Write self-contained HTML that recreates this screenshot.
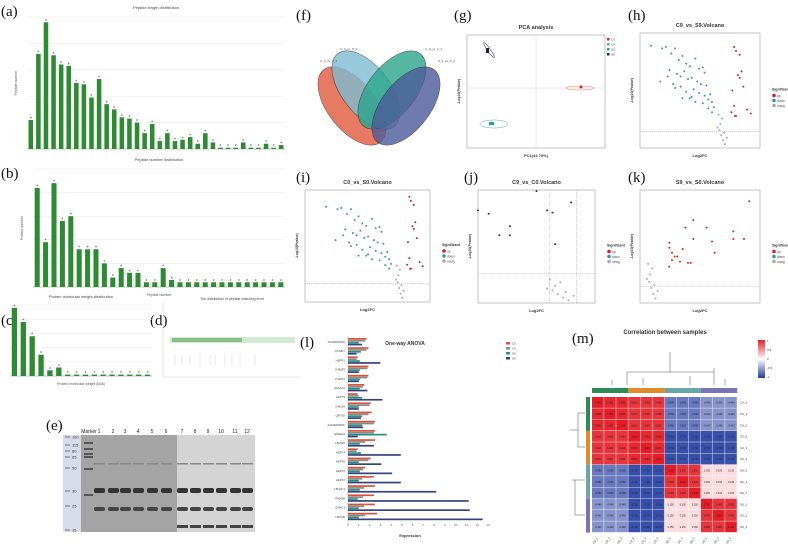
<!DOCTYPE html>
<html><head><meta charset="utf-8"><style>
html,body{margin:0;padding:0;background:#fff;}
svg{display:block;font-family:"Liberation Sans",sans-serif;}
.lab{font-family:"Liberation Serif",serif;font-size:15px;fill:#111;}
</style></head><body>
<svg id="fig" width="788" height="549" viewBox="0 0 788 549" xmlns="http://www.w3.org/2000/svg">
<g id="labels">
<text class="lab" x="1" y="16">(a)</text>
<text class="lab" x="1" y="178">(b)</text>
<text class="lab" x="1" y="325">(c)</text>
<text class="lab" x="150" y="325">(d)</text>
<text class="lab" x="46" y="430">(e)</text>
<text class="lab" x="296" y="20">(f)</text>
<text class="lab" x="454" y="20">(g)</text>
<text class="lab" x="628" y="20">(h)</text>
<text class="lab" x="296" y="182">(i)</text>
<text class="lab" x="464" y="182">(j)</text>
<text class="lab" x="628" y="182">(k)</text>
<text class="lab" x="300" y="347">(l)</text>
<text class="lab" x="572" y="343">(m)</text>
</g>
</svg>
<script>
const aVals=[22,72,96,71,64,63,50,49,39,53,34,30,24,23,20,12,19,6,12,6,7,9,4,12,5,1,1,1,5,1,1,4,1,3];
const bVals=[21,9.5,22,14,15,8,8,8,5,2,4,3,3,1,1,4,1.5,1,1,1,1,1,1,1,1,1,1,1,1,1];
const cVals=[48,38,28,15,4,6,1,1,1,1,1,1,1,1,1,1];
const lNames=["A0A060XDH9","J7FMD7","HEPR1","O48287","P14872","Q6AKA1","HEPT5","O46259","Q8I7E5","A0A060XRDF","Q6SEH4","L8LR45","HEPT4","HEPS6","HEPT6","HEPS7","L8LWC1","P80058","Q0BIC3","L8LS00"];
const lRed=[1.7,1.9,0.9,1.9,1.9,1.5,0.9,2.1,2.2,2.5,2.5,2.5,0.9,2.1,1.6,2.4,2.5,2.4,2.5,2.7];
const lGrey=[1.6,1.7,0.8,1.8,1.8,1.4,1.0,2.0,1.9,2.4,2.4,1.6,0.8,1.9,1.4,1.3,1.5,1.4,1.5,1.6];
const lTeal=[1.0,1.2,1.1,1.1,1.1,1.1,1.3,1.0,1.3,1.3,3.6,1.1,1.2,1.0,1.1,1.0,1.1,0.9,1.0,1.0];
const lNavy=[1.3,0.8,3.0,1.0,1.0,1.8,3.2,1.0,1.2,1.4,0.9,2.4,4.9,3.1,4.1,4.9,8.2,11.2,11.3,12.5];
const mSamples=["C9_1","C9_2","C9_3","C0_3","C0_1","C0_2","S9_3","S9_1","S9_2","S0_1","S0_2","S0_3"];
const mBlock=[[0.95,0.9,-0.55,-0.44],[0.9,0.95,-0.72,-0.72],[-0.55,-0.72,0.9,0.15],[-0.44,-0.72,0.15,0.9]];
const hUpX=[0.6,0.7,0.9,1.0,0.8,0.9,1.1,0.5,0.6,0.7,1.3,0.45,0.65,1.5];
const hUpY=[7.9,7.6,7.3,6.0,5.7,5.5,4.8,4.5,3.3,2.5,3.0,2.8,2.5,2.7];
const hDnX=[-3.9,-3.3,-3.1,-2.8,-2.6,-2.4,-2.2,-2.0,-1.8,-1.5,-1.3,-1.1,-1.0,-2.9,-2.5,-2.3,-2.1,-1.9,-1.7,-1.4,-1.2,-0.9,-0.7,-0.6,-2.7,-2.3,-2.0,-1.6,-1.3,-1.0,-0.8,-0.5,-2.2,-1.8,-1.5,-1.1,-0.8,-0.6,-3.0,-3.4,-2.6,-1.7];
const hDnY=[8.0,7.8,7.9,7.4,7.8,6.9,7.2,6.6,6.4,7.0,6.2,6.3,5.9,6.1,5.8,5.6,6.0,5.4,5.5,5.2,5.0,4.9,4.2,3.6,5.0,4.8,4.4,4.6,4.3,4.1,3.8,3.2,3.9,3.9,3.6,3.5,3.1,2.8,5.6,5.2,4.7,4.0];
const nsX=[-0.3,-0.2,-0.1,0.0,0.1,-0.15,0.05,-0.05,0.2,-0.25];
const nsY=[1.6,1.4,1.0,0.6,0.3,1.9,1.2,2.3,0.8,2.6];
const jX=[-1.6,-1.4,-1.0,-1.2,-1.0,-0.5,-0.3,-0.2,0.15,-0.15];
const jY=[4.1,3.95,3.4,3.0,3.0,4.95,4.1,4.0,4.45,2.6];
const kX=[3.6,1.5,1.2,2.0,1.5,2.2,3.0,3.4,3.0,0.6,0.6,0.7,0.8,0.9,1.0,0.7,0.6,1.3,1.4,1.1,2.3];
const kY=[8.1,6.6,6.0,6.0,5.1,4.9,5.1,5.1,5.7,4.8,4.4,4.0,3.7,3.7,3.3,3.4,2.9,3.2,3.2,4.3,4.0];

const NS="http://www.w3.org/2000/svg";
const svg=document.getElementById('fig');
function mk(tag,attrs,parent,txt){const e=document.createElementNS(NS,tag);for(const k in attrs)e.setAttribute(k,attrs[k]);if(txt!==undefined)e.textContent=txt;(parent||svg).appendChild(e);return e;}
function grp(name){const g=mk('g',{});return g;}
function lin(d0,d1,r0,r1){return v=>r0+(v-d0)/(d1-d0)*(r1-r0);}

function barChart(name,vals,x0,x1,y0,y1,max,title,ty,ylab,xlab){
 const g=grp(name);
 const y=lin(0,max,y1,y0);
 for(let i=0;i<=5;i++){const yy=y(max*i/5);mk('line',{x1:x0,x2:x1,y1:yy,y2:yy,stroke:'#e6e6e6','stroke-width':0.5},g);}
 mk('line',{x1:x0,x2:x1,y1:y1,y2:y1,stroke:'#999','stroke-width':0.5},g);
 const bw=(x1-x0)/vals.length;
 vals.forEach((v,i)=>{const r=mk('rect',{x:x0+i*bw+bw*0.2,y:y(v),width:bw*0.6,height:y1-y(v),fill:'#2f8a34'},g);
  
  
  mk('text',{x:x0+i*bw+bw/2,y:y(v)-1.5,'font-size':3,'text-anchor':'middle',fill:'#333'},g,'#');});
 if(title)mk('text',{x:(x0+x1)/2,y:ty,'font-size':4,'text-anchor':'middle',fill:'#444'},g,title);
 if(ylab)mk('text',{x:0,y:0,'font-size':3.5,'text-anchor':'middle',fill:'#555',transform:`translate(${x0-10},${(y0+y1)/2}) rotate(-90)`},g,ylab);
 if(xlab)mk('text',{x:(x0+x1)/2,y:y1+9,'font-size':3.5,'text-anchor':'middle',fill:'#555'},g,xlab);
 return g;
}
barChart('peptide-length-chart',aVals,27,285,17,149,100,'Peptide length distribution',9,'Peptide number','');
barChart('peptide-number-chart',bVals,33,285,169,287,25,'Peptide number distribution',161,'Protein number','Peptide number');
barChart('protein-weight-chart',cVals,10,152,305,376,50,'Protein molecular weight distribution',298,'Protein number','Protein molecular weight (kDa)');

{const g=grp('peptide-score-scatter');
 mk('text',{x:232,y:300,'font-size':3.5,'text-anchor':'middle',fill:'#444'},g,'The distribution of peptide matching error');
 mk('line',{x1:163,x2:163,y1:303,y2:377,stroke:'#ccc','stroke-width':0.5},g);
 mk('line',{x1:163,x2:300,y1:377,y2:377,stroke:'#ccc','stroke-width':0.5},g);
 mk('rect',{x:170,y:337,width:125,height:6,fill:'#7cc07c',opacity:0.35},g);
 mk('rect',{x:172,y:338,width:70,height:4,fill:'#3a9a3a',opacity:0.5},g);
 const dotsX=[190,200,210,215,240,255,175,182,225,232];
 dotsX.forEach(x=>mk('line',{x1:x,x2:x,y1:355,y2:365,stroke:'#ccc','stroke-width':0.5},g));
}

{const g=grp('sds-page-gel');
 const names=['Marker','1','2','3','4','5','6','7','8','9','10','11','12'];
 const lx=[89,99,113,125,138,152,166,182,195,208,221,235,247];
 names.forEach((n,i)=>mk('text',{x:lx[i],y:433,'font-size':5,'text-anchor':'middle',fill:'#222'},g,n));
 mk('rect',{x:63,y:435,width:18,height:97,fill:'#d8dce8'},g);
 mk('rect',{x:81,y:435,width:96,height:97,fill:'#a4a4a4'},g);
 mk('rect',{x:177,y:435,width:78,height:97,fill:'#d4d4d4'},g);
 const mk2=['180','115','80','65','50','30','25','15'];const my=[437,445,451,457,468,491,506,530];
 mk2.forEach((m,i)=>{mk('line',{x1:65,x2:70,y1:my[i],y2:my[i],stroke:'#557','stroke-width':0.8},g);mk('text',{x:72,y:my[i]+1.5,'font-size':4,fill:'#333'},g,m);});
 [442,448,453,456,468,494].forEach(y=>mk('rect',{x:84,y:y,width:9,height:2,fill:'#555'},g));
 for(let i=1;i<13;i++){const x=lx[i]-5;
  mk('rect',{x:x,y:488,width:11,height:5,fill:'#333',rx:2},g);
  mk('rect',{x:x,y:507,width:11,height:4,fill:'#444',rx:2},g);
  mk('rect',{x:x,y:463,width:11,height:1.5,fill:'#888'},g);
  if(i>6)mk('rect',{x:x,y:525,width:11,height:3,fill:'#444'},g);}
}

{const g=grp('venn-diagram');
 const el=[[352,106,'#e0593d',-38],[366,90,'#7fbcd2',-38],[392,90,'#2ba58c',38],[406,106,'#4c5b9a',38]];
 el.forEach(e=>mk('ellipse',{cx:e[0],cy:e[1],rx:24,ry:46,fill:e[2],opacity:0.8,stroke:'#222','stroke-width':0.5,transform:`rotate(${e[3]} ${e[0]} ${e[1]})`},g));
 mk('text',{x:320,y:62,'font-size':3,fill:'#555'},g,'C_9_vs_S_9');
 mk('text',{x:340,y:50,'font-size':3,fill:'#555'},g,'C_0_vs_S_0');
 mk('text',{x:425,y:50,'font-size':3,fill:'#555'},g,'C_9_vs_C_0');
 mk('text',{x:438,y:62,'font-size':3,fill:'#555'},g,'S_9_vs_S_0');
}

function axes(g,x0,x1,y0,y1,title,xl){
 mk('rect',{x:x0,y:y0,width:x1-x0,height:y1-y0,fill:'none',stroke:'#888','stroke-width':0.5},g);
 if(title)mk('text',{x:(x0+x1)/2,y:y0-6,'font-size':5.5,'font-weight':'bold','text-anchor':'middle',fill:'#333'},g,title);
 mk('text',{x:(x0+x1)/2,y:y1+9,'font-size':4,'font-weight':'bold','text-anchor':'middle',fill:'#333'},g,xl);
 mk('text',{x:0,y:0,'font-size':3.5,'font-weight':'bold','text-anchor':'middle',fill:'#333',transform:`translate(${x0-7},${(y0+y1)/2}) rotate(-90)`},g,'-Log10(Pvalue)');
}
function legend(g,x,y){
 mk('text',{x:x,y:y,'font-size':3.5,'font-weight':'bold',fill:'#333'},g,'Significant');
 [['#d02020','up'],['#3a8fc2','down'],['#aaa','nosig']].forEach((l,i)=>{mk('circle',{cx:x+2,cy:y+5+i*5,r:1.8,fill:l[0]},g);mk('text',{x:x+5,y:y+6.5+i*5,'font-size':3.2,fill:'#444'},g,l[1]);});
}
function volcano(name,x0,x1,y0,y1,xd,yd,title,sets){
 const g=grp(name);axes(g,x0,x1,y0,y1,title,'Log2FC');
 const X=lin(xd[0],xd[1],x0,x1),Y=lin(yd[0],yd[1],y1,y0);
 mk('line',{x1:x0,x2:x1,y1:Y(1.3),y2:Y(1.3),stroke:'#999','stroke-width':0.4,'stroke-dasharray':'1,1'},g);
 sets.forEach(s=>s[0].forEach((v,i)=>{const c=mk('circle',{cx:X(v),cy:Y(s[1][i]),r:s[3]||1,fill:s[2]},g);
  
  }));
 legend(g,x1+12,y0+(y1-y0)/2);
 return {g,X,Y};
}
{const g=grp('pca-plot');axes(g,467,605,35,148,'PCA analysis','PC1(42.79%)');
 mk('line',{x1:536,x2:536,y1:35,y2:148,stroke:'#ccc','stroke-width':0.4},g);
 mk('line',{x1:467,x2:605,y1:88,y2:88,stroke:'#ccc','stroke-width':0.4},g);
 mk('ellipse',{cx:489,cy:50,rx:9,ry:1.5,fill:'none',stroke:'#334','stroke-width':0.5,transform:'rotate(55 489 50)'},g);
 mk('rect',{x:486,y:48,width:3,height:5,fill:'#224'},g);
 mk('ellipse',{cx:494,cy:124,rx:14,ry:4,fill:'none',stroke:'#5ab','stroke-width':0.5},g);
 mk('rect',{x:489,y:122,width:5,height:3,fill:'#2a8'},g);
 mk('ellipse',{cx:580,cy:88,rx:14,ry:2,fill:'none',stroke:'#e66','stroke-width':0.5},g);
 mk('circle',{cx:581,cy:87,r:1.5,fill:'#d22'},g);
 [['#d22','C0'],['#5ab','C9'],['#2a8','S0'],['#224','S9']].forEach((l,i)=>{mk('rect',{x:607,y:38+i*5,width:2.5,height:2.5,fill:l[0]},g);mk('text',{x:611,y:40.5+i*5,'font-size':3,fill:'#444'},g,l[1]);});
}
volcano('volcano-h',640,760,33,148,[-4.5,2],[0,9],'C9_vs_S9.Volcano',[[hDnX,hDnY,'#3a8fc2'],[hUpX,hUpY,'#d02020'],[nsX,nsY,'#aaa']]);
volcano('volcano-i',305,430,190,302,[-6.5,2],[0,8],'C0_vs_S0.Volcano',[[hDnX.map(v=>v*1.3),hDnY.map(v=>v*0.85),'#3a8fc2'],[hUpX,hUpY.map(v=>v*0.95),'#d02020'],[nsX,nsY,'#aaa']]);
{const v=volcano('volcano-j',478,595,190,303,[-1.6,0.6],[0,5],'C9_vs_C0.Volcano',[[nsX,nsY.map(y=>y*0.4),'#aaa'],[jX,jY,'#333']]);
 mk('line',{x1:v.X(-0.25),x2:v.X(-0.25),y1:190,y2:303,stroke:'#999','stroke-width':0.4,'stroke-dasharray':'1,1'},v.g);
 mk('line',{x1:v.X(0.25),x2:v.X(0.25),y1:190,y2:303,stroke:'#999','stroke-width':0.4,'stroke-dasharray':'1,1'},v.g);}
volcano('volcano-k',640,760,190,303,[-0.5,4],[0,9],'S9_vs_S0.Volcano',[[nsX.map(x=>x*0.8),nsY.map(y=>y*1.2),'#aaa'],[kX,kY,'#d02020']]);

{const g=grp('anova-bar-chart');
 mk('text',{x:405,y:345,'font-size':5,'font-weight':'bold','text-anchor':'middle',fill:'#333'},g,'One-way ANOVA');
 const X=lin(0,13,348,488);const top=340,step=9.2;
 for(let t=0;t<=13;t++)mk('text',{x:X(t),y:526,'font-size':3,'text-anchor':'middle',fill:'#555'},g,String(t));
 mk('line',{x1:348,x2:348,y1:336,y2:524,stroke:'#888','stroke-width':0.4},g);
 mk('text',{x:410,y:537,'font-size':4,'font-weight':'bold','text-anchor':'middle',fill:'#333'},g,'Expression');
 const ser=[[lRed,'#d9533c'],[lGrey,'#8c8a86'],[lTeal,'#2a8f87'],[lNavy,'#33447a']];
 lNames.forEach((n,i)=>{const yb=top+i*step;
  mk('text',{x:345,y:yb+3,'font-size':2.8,'text-anchor':'end',fill:'#444'},g,n);
  ser.forEach((s,k)=>{const r=mk('rect',{x:348,y:yb+k*1.9-2,width:X(s[0][i])-348,height:1.7,fill:s[1]},g);
   
   });});
 [['#d9533c','C0'],['#8c8a86','C9'],['#2a8f87','S0'],['#33447a','S9']].forEach((l,i)=>{mk('rect',{x:506,y:342+i*5,width:4,height:2.5,fill:l[0]},g);mk('text',{x:512,y:344.5+i*5,'font-size':3,fill:'#444'},g,l[1]);});
}

{const g=grp('correlation-heatmap');
 mk('text',{x:665,y:334,'font-size':6,'font-weight':'bold','text-anchor':'middle',fill:'#333'},g,'Correlation between samples');
 const x0=592,y0=397,cw=12.1,ch=11.3;
 function col(v){if(v>=0){const t=Math.min(1,v);return `rgb(${Math.round(255-(255-228)*t)},${Math.round(255-(255-30)*t)},${Math.round(255-(255-40)*t)})`;}const t=Math.min(1,-v/0.8);return `rgb(${Math.round(255-(255-35)*t)},${Math.round(255-(255-60)*t)},${Math.round(255-(255-160)*t)})`;}
 for(let r=0;r<12;r++)for(let c=0;c<12;c++){const br=Math.floor(r/3),bc=Math.floor(c/3);
  const v=r===c?1:mBlock[br][bc];
  const cell=mk('rect',{x:x0+c*cw,y:y0+r*ch,width:cw-0.4,height:ch-0.4,fill:col(v)},g);
  
  
  mk('text',{x:x0+c*cw+cw/2,y:y0+r*ch+ch/2+1,'font-size':2.4,'text-anchor':'middle',fill:'#222'},g,v.toFixed(3));}
 const cc=['#2e8b57','#e08a2a','#6aa5a8','#7a74b4'];
 cc.forEach((c,i)=>{mk('rect',{x:x0+i*3*cw,y:388,width:3*cw,height:5,fill:c},g);mk('rect',{x:586,y:y0+i*3*ch,width:4,height:3*ch,fill:c},g);});
 mSamples.forEach((s,i)=>{mk('text',{x:740,y:y0+i*ch+ch/2+1,'font-size':3,fill:'#333'},g,s);
  mk('text',{x:0,y:0,'font-size':3,fill:'#333','text-anchor':'end',transform:`translate(${x0+i*cw+cw/2},${538}) rotate(-60)`},g,s);});
 const dp='M627,385 V372 M714,385 V368 M627,372 H714 M670,372 V352 M612,385 V380 M643,385 V378 M690,385 V376 M725,385 V379';
 mk('path',{d:dp,fill:'none',stroke:'#555','stroke-width':0.5},g);
 mk('path',{d:'M585,413 H578 M585,447 H578 M578,413 V447 M578,430 H570 M585,480 H572 M585,515 H575 M575,480 V515',fill:'none',stroke:'#555','stroke-width':0.5},g);
 const grd=mk('linearGradient',{id:'cb',x1:0,y1:0,x2:0,y2:1},mk('defs',{},g));
 mk('stop',{offset:'0','stop-color':'#e31e28'},grd);mk('stop',{offset:'0.5','stop-color':'#fff'},grd);mk('stop',{offset:'1','stop-color':'#233c9f'},grd);
 mk('rect',{x:758,y:340,width:7,height:38,fill:'url(#cb)'},g);
 ['1','0.5','0','-0.5','-1'].forEach((t,i)=>mk('text',{x:767,y:342+i*9,'font-size':3,fill:'#333'},g,t));
}
</script>
</body></html>
